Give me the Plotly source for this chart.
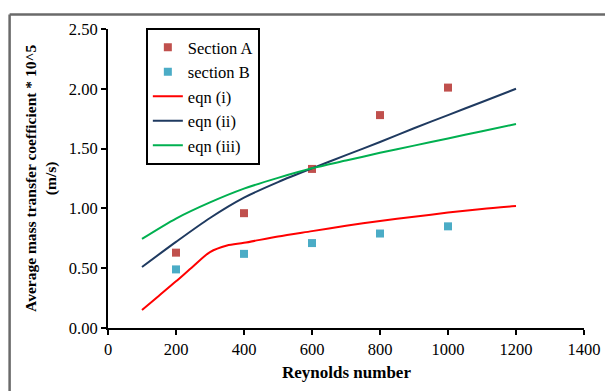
import plotly.graph_objects as go

# Data
re_pts = [200, 400, 600, 800, 1000]
section_a = [0.63, 0.96, 1.33, 1.78, 2.01]
section_b = [0.49, 0.62, 0.71, 0.79, 0.85]

re_eqn_i = [100, 150, 200, 250, 300, 350, 400, 500, 600, 700, 800, 900, 1000, 1100, 1200]
eqn_i = [0.15, 0.27, 0.39, 0.515, 0.635, 0.69, 0.712, 0.765, 0.81, 0.855, 0.895, 0.93, 0.965, 0.995, 1.02]

re_eqn = [100, 200, 300, 400, 500, 600, 700, 800, 900, 1000, 1100, 1200]
eqn_ii = [0.51, 0.72, 0.92, 1.09, 1.22, 1.335, 1.445, 1.555, 1.67, 1.78, 1.89, 2.00]
eqn_iii = [0.745, 0.915, 1.05, 1.165, 1.255, 1.335, 1.40, 1.465, 1.525, 1.585, 1.645, 1.705]

x_ticks = [0, 200, 400, 600, 800, 1000, 1200, 1400]
y_ticks = [0, 0.5, 1.0, 1.5, 2.0, 2.5]

serif = "Liberation Serif, Times New Roman, serif"

fig = go.Figure()
fig.add_trace(go.Scatter(x=re_pts, y=section_a, mode="markers", name="Section A",
                         marker=dict(symbol="square", size=8, color="#C0504D")))
fig.add_trace(go.Scatter(x=re_pts, y=section_b, mode="markers", name="section B",
                         marker=dict(symbol="square", size=8, color="#4BACC6")))
fig.add_trace(go.Scatter(x=re_eqn_i, y=eqn_i, mode="lines", name="eqn (i)",
                         line=dict(color="#FF0000", width=2, shape="spline", smoothing=0.8)))
fig.add_trace(go.Scatter(x=re_eqn, y=eqn_ii, mode="lines", name="eqn (ii)",
                         line=dict(color="#1F3A60", width=2, shape="spline", smoothing=0.8)))
fig.add_trace(go.Scatter(x=re_eqn, y=eqn_iii, mode="lines", name="eqn (iii)",
                         line=dict(color="#00B050", width=2, shape="spline", smoothing=0.8)))

fig.update_layout(
    width=605, height=383,
    margin=dict(l=100, r=27, t=16, b=63),
    paper_bgcolor="white", plot_bgcolor="white",
    font=dict(family=serif, size=16, color="black"),
    showlegend=True,
    legend=dict(x=0.0795, y=1.003, xanchor="left", yanchor="top",
                bordercolor="black", borderwidth=2, bgcolor="white",
                font=dict(family=serif, size=16.5, color="black"),
                tracegroupgap=0),
    xaxis=dict(range=[0, 1400], tickvals=x_ticks, showgrid=False, zeroline=False,
               showline=True, linecolor="black", linewidth=2,
               ticks="outside", ticklen=5, tickwidth=2, tickcolor="black",
               tickfont=dict(family=serif, size=16.5, color="black")),
    yaxis=dict(range=[0, 2.5], tickvals=y_ticks, tickformat=".2f", showgrid=False, zeroline=False,
               showline=True, linecolor="black", linewidth=2,
               ticks="outside", ticklen=5, tickwidth=2, tickcolor="black",
               tickfont=dict(family=serif, size=16.5, color="black")),
    annotations=[
        dict(text="<b>Reynolds number</b>", xref="paper", yref="paper", x=0.5, y=-0.148,
             xanchor="center", yanchor="middle", showarrow=False,
             font=dict(family=serif, size=17, color="black")),
        dict(text="<b>Average mass transfer coefficient * 10^5</b><br><b>(m/s)</b>",
             xref="paper", yref="paper", x=-0.142, y=0.5, textangle=-90,
             xanchor="center", yanchor="middle", showarrow=False,
             font=dict(family=serif, size=15.5, color="black")),
    ],
    shapes=[
        dict(type="line", xref="paper", yref="paper", x0=-0.2067, x1=1.2, y0=1.0487, y1=1.0487,
             line=dict(color="#6A6A6A", width=2.5)),
        dict(type="line", xref="paper", yref="paper", x0=-0.2067, x1=-0.2067, y0=-0.3, y1=1.0487,
             line=dict(color="#6A6A6A", width=2.5)),
    ],
)

fig.write_html("out.html")
